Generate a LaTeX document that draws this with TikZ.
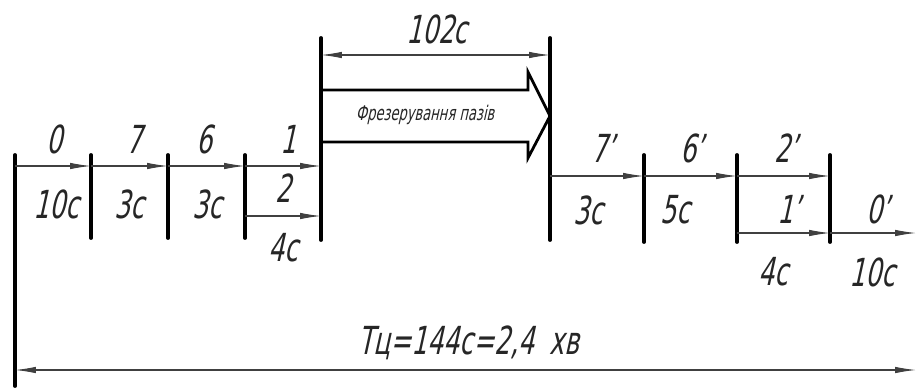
\documentclass[tikz,border=0pt]{standalone}
\usepackage{fontspec}
\setmainfont{DejaVu Sans Condensed}[FakeSlant=0.22,FakeStretch=0.72]
\usetikzlibrary{arrows.meta,calc}
\tikzset{
    bar/.style={line width=2.2pt, line cap=round},
    flow/.style={line width=0.6pt, draw=black!75, -{Latex[length=4.2mm,width=1.3mm]}},
    dim/.style={line width=0.6pt, draw=black!75, {Latex[length=4.2mm,width=1.3mm]}-{Latex[length=4.2mm,width=1.3mm]}},
    lbl/.style={font=\fontsize{22}{24}\selectfont, inner sep=0pt, text=black!85},
    oplbl/.style={font=\fontsize{11.5}{12}\selectfont, inner sep=0pt, text=black!85},
    opbox/.style={line width=1.6pt, line join=miter}
}
\begin{document}
\begin{tikzpicture}[x=0.02cm, y=-0.02cm]
\useasboundingbox (0,0) rectangle (917,390);

% ── bars ──
\coordinate (b0t) at (15,155);  \coordinate (b0b) at (15,386);
\coordinate (b1t) at (91,155);  \coordinate (b1b) at (91,238);
\coordinate (b2t) at (168,155); \coordinate (b2b) at (168,238);
\coordinate (b3t) at (245,155); \coordinate (b3b) at (245,238);
\coordinate (b4t) at (321,38);  \coordinate (b4b) at (321,240);
\coordinate (b5t) at (550,38);  \coordinate (b5b) at (550,240);
\coordinate (b6t) at (644,155); \coordinate (b6b) at (644,242);
\coordinate (b7t) at (737,155); \coordinate (b7b) at (737,242);
\coordinate (b8t) at (830,155); \coordinate (b8b) at (830,242);
\foreach \b in {b0,b1,b2,b3,b4,b5,b6,b7,b8}
    \draw[bar] (\b t) -- (\b b);

% ── rows ──
\coordinate (rowA) at (0,166);
\coordinate (rowB) at (0,216);
\coordinate (rowC) at (0,176);
\coordinate (rowD) at (0,233);
\coordinate (rowT) at (0,55);
\coordinate (rowS) at (0,370);
\coordinate (outR) at (916,233);
\coordinate (endS) at (916,370);

% ── transitions ──
\draw[flow] (b0t |- rowA) -- (b1t |- rowA);
\draw[flow] (b1t |- rowA) -- (b2t |- rowA);
\draw[flow] (b2t |- rowA) -- (b3t |- rowA);
\draw[flow] (b3t |- rowA) -- (b4t |- rowA);
\draw[flow] (b3t |- rowB) -- (b4t |- rowB);
\draw[flow] (b5t |- rowC) -- (b6t |- rowC);
\draw[flow] (b6t |- rowC) -- (b7t |- rowC);
\draw[flow] (b7t |- rowC) -- (b8t |- rowC);
\draw[flow] (b7t |- rowD) -- (b8t |- rowD);
\draw[flow] (b8t |- rowD) -- (outR);

% ── milling ──
\draw[opbox] (b4t |- 0,90) -- (528,90) -- (528,72) -- (b5t |- 0,116)
    -- (528,158) -- (528,142) -- (b4t |- 0,142);
\node[oplbl] (mill) at (425,115) {Фрезерування пазів};
\draw[dim] (b4t |- rowT) -- (b5t |- rowT);
\node[lbl] (tmill) at (437,29) {102с};

% ── cycle ──
\draw[dim] (b0t |- rowS) -- (endS);
\node[lbl] (tcyc) at (469,343) {Тц=144с=2,4\ \ хв};

% ── labels ──
\node[lbl] (s0)  at (54,139)  {0};
\node[lbl] (s7)  at (134,139) {7};
\node[lbl] (s6)  at (204,139) {6};
\node[lbl] (s1)  at (288,139) {1};
\node[lbl] (s2)  at (283,188) {2};
\node[lbl] (t0)  at (56,204)  {10с};
\node[lbl] (t7)  at (129,204) {3с};
\node[lbl] (t6)  at (207,204) {3с};
\node[lbl] (t2)  at (283,248) {4с};
\node[lbl] (s7p) at (603,148) {7’};
\node[lbl] (s6p) at (692,148) {6’};
\node[lbl] (s2p) at (786,148) {2’};
\node[lbl] (s1p) at (789,209) {1’};
\node[lbl] (s0p) at (878,209) {0’};
\node[lbl] (t7p) at (588,210) {3с};
\node[lbl] (t6p) at (675,210) {5с};
\node[lbl] (t2p) at (773,272) {4с};
\node[lbl] (t0p) at (872,272) {10с};

\end{tikzpicture}
\end{document}
